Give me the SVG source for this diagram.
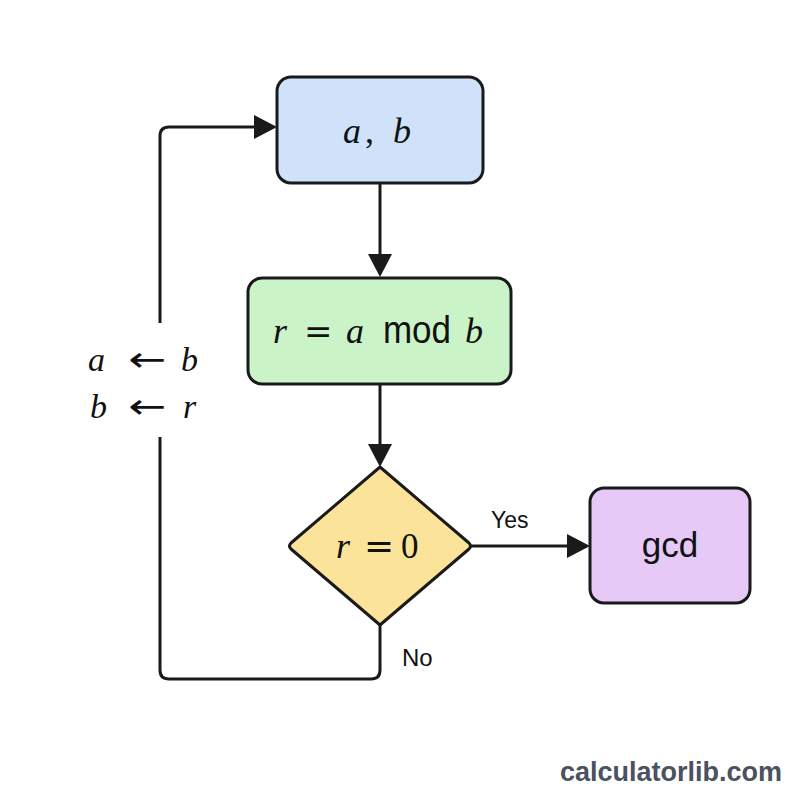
<svg xmlns="http://www.w3.org/2000/svg" width="800" height="800" viewBox="0 0 800 800">
<defs>
<style>
.box{stroke:#1a1a1a;stroke-width:3}
.line{fill:none;stroke:#1a1a1a;stroke-width:3;stroke-linejoin:round}
.head{fill:#1a1a1a}
.math{font-family:"Liberation Serif","DejaVu Serif",serif;font-style:italic;fill:#111}
.up{font-family:"Liberation Serif","DejaVu Serif",serif;fill:#111}
.sym{font-family:"DejaVu Sans","Liberation Sans",sans-serif;fill:#111}
.sans{font-family:"Liberation Sans",Arial,sans-serif;fill:#111}
</style>
</defs>
<rect width="800" height="800" fill="#ffffff"/>
<g id="connectors">
<line class="line" x1="380" y1="184" x2="380" y2="254"/>
<path class="head" d="M368,254 L392,254 L380,277 Z"/>
<line class="line" x1="380" y1="385" x2="380" y2="444"/>
<path class="head" d="M368,444 L392,444 L380,467 Z"/>
<line class="line" x1="470" y1="546" x2="567" y2="546"/>
<path class="head" d="M567,534 L567,558 L590,546 Z"/>
<path class="line" d="M380,625 L380,670 Q380,679 371,679 L169,679 Q160,679 160,670 L160,437"/>
<path class="line" d="M160,323 L160,136 Q160,127 169,127 L254,127"/>
<path class="head" d="M254,115 L254,139 L277,127 Z"/>
<text class="sans" x="491" y="528" font-size="23">Yes</text>
<text class="sans" x="402" y="666" font-size="24">No</text>
<text font-size="34"><tspan class="math" x="88" y="371">a</tspan><tspan class="sym" x="128" y="371" textLength="38" lengthAdjust="spacingAndGlyphs">←</tspan><tspan class="math" x="181" y="371">b</tspan></text>
<text font-size="34"><tspan class="math" x="90" y="418">b</tspan><tspan class="sym" x="128" y="418" textLength="38" lengthAdjust="spacingAndGlyphs">←</tspan><tspan class="math" x="183" y="418">r</tspan></text>
</g>
<g id="node-input">
<rect class="box" x="277" y="77" width="206" height="106" rx="14" fill="#cfe2fa"/>
<text font-size="36"><tspan class="math" x="343" y="143">a</tspan><tspan class="up" x="365" y="143">,</tspan><tspan class="math" x="393" y="143">b</tspan></text>
</g>
<g id="node-mod">
<rect class="box" x="248" y="278" width="263" height="106" rx="14" fill="#cbf3c8"/>
<text font-size="36"><tspan class="math" x="273" y="343">r</tspan><tspan class="sym" x="304" y="343" font-size="34">=</tspan><tspan class="math" x="346" y="343">a</tspan><tspan class="sans" x="383" y="343" textLength="68" lengthAdjust="spacingAndGlyphs" font-size="38">mod</tspan><tspan class="math" x="465" y="343">b</tspan></text>
</g>
<g id="node-decision">
<path class="box" d="M380,467 L469,543 Q472,546 469,549 L380,625 L291,549 Q288,546 291,543 Z" fill="#fbe49a" stroke-linejoin="round"/>
<text font-size="36"><tspan class="math" x="336" y="558">r</tspan><tspan class="sym" x="364" y="558" font-size="36">=</tspan><tspan class="up" x="401" y="558" font-size="35">0</tspan></text>
</g>
<g id="node-gcd">
<rect class="box" x="590" y="488" width="160" height="115" rx="14" fill="#e6c9f7"/>
<text class="sans" x="670" y="557" font-size="35" text-anchor="middle">gcd</text>
</g>
<text x="782" y="781" font-family="Liberation Sans,Arial,sans-serif" font-weight="bold" font-size="27" fill="#4a5160" text-anchor="end">calculatorlib.com</text>
</svg>
